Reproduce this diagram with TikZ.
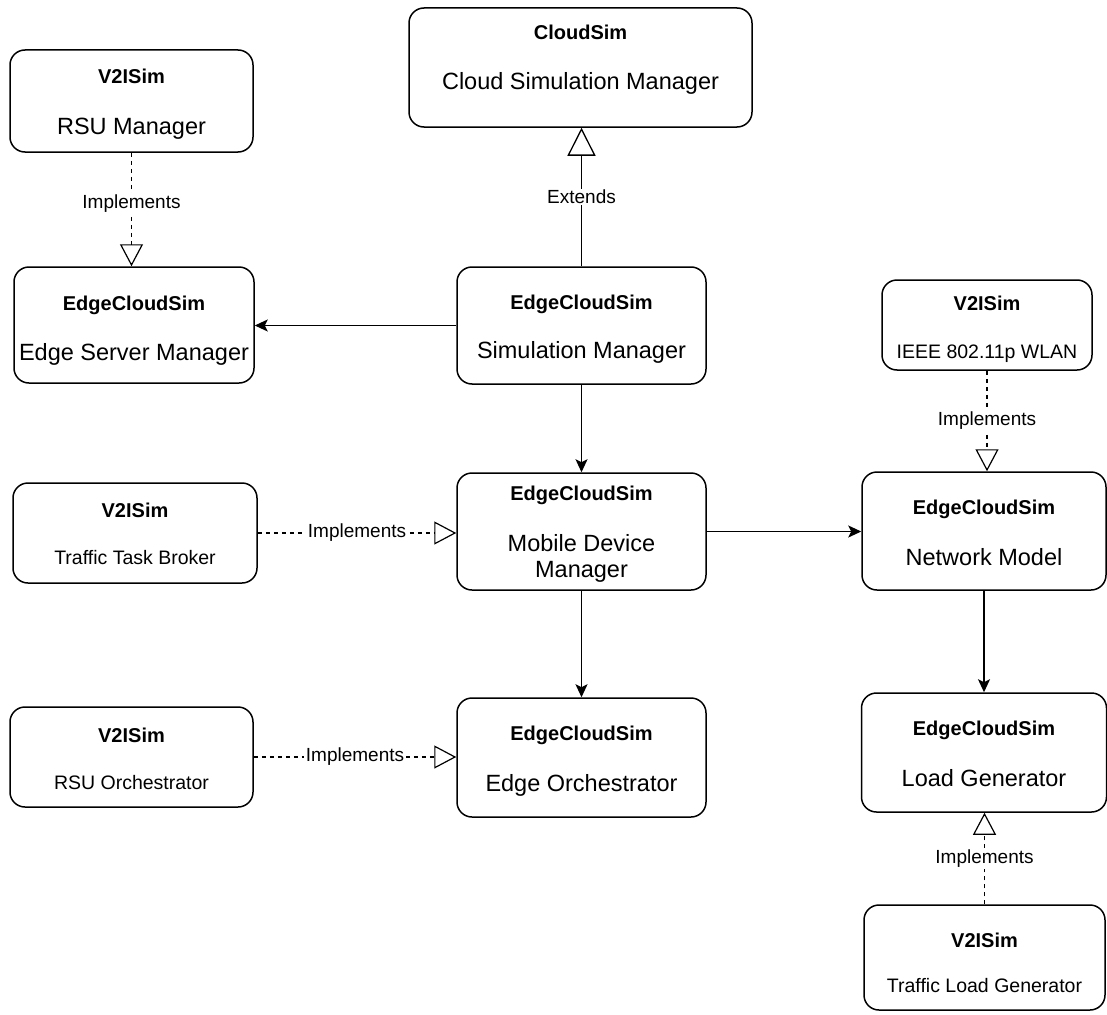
\documentclass[tikz,border=0pt]{standalone}
\usepackage{fontspec}
\setmainfont{Liberation Sans}
\usetikzlibrary{arrows.meta}
\begin{document}
\begin{tikzpicture}[x=1pt,y=-1pt]
\tikzset{
 box/.style={draw, line width=1.5pt, rounded corners=15pt, inner sep=0pt},
 ttl/.style={anchor=base, inner sep=0pt, font=\bfseries\fontsize{20}{24}\selectfont},
 bodyL/.style={anchor=base, inner sep=0pt, font=\fontsize{23.5}{26}\selectfont},
 bodyS/.style={anchor=base, inner sep=0pt, font=\fontsize{19.5}{23}\selectfont},
 flow/.style={line width=1.5pt, -{Stealth[length=13pt,width=12pt,inset=3pt]}},
 impl/.style={line width=1.2pt, dash pattern=on 4pt off 4pt, -{Triangle[open,length=22pt,width=23pt,line width=1.2pt]}},
 ext/.style={line width=1.5pt, -{Triangle[open,length=28pt,width=28pt,line width=1.3pt]}},
 lbl/.style={fill=white, inner sep=1.5pt, font=\fontsize{19}{22}\selectfont},
}
\useasboundingbox (0,0) rectangle (1107,1014);

% boxes
\node[box, minimum width=343pt, minimum height=119pt] (cloud) at (580.5,67.5) {};
\node[box, minimum width=243pt, minimum height=102pt] (rsum) at (131.5,101) {};
\node[box, minimum width=240pt, minimum height=116pt] (esm) at (134,325) {};
\node[box, minimum width=249pt, minimum height=117pt] (sim) at (581.5,325.5) {};
\node[box, minimum width=210pt, minimum height=90pt] (wlan) at (987,325) {};
\node[box, minimum width=244pt, minimum height=100pt] (ttb) at (135,533) {};
\node[box, minimum width=249pt, minimum height=117pt] (mdm) at (581.5,531.5) {};
\node[box, minimum width=244pt, minimum height=118pt] (net) at (984,531) {};
\node[box, minimum width=243pt, minimum height=100pt] (rsuo) at (131.5,757) {};
\node[box, minimum width=249pt, minimum height=119pt] (eo) at (581.5,757.5) {};
\node[box, minimum width=245pt, minimum height=119pt] (lg) at (984,752.5) {};
\node[box, minimum width=241pt, minimum height=105pt] (tlg) at (984.5,957.5) {};

% texts
\node[ttl] (cloudT) at (580.5,39.2) {CloudSim};
\node[bodyL] (cloudB) at (580.5,89.4) {Cloud Simulation Manager};
\node[ttl] (rsumT) at (131.5,84) {V2ISim};
\node[bodyL] (rsumB) at (131.5,135) {RSU Manager};
\node[ttl] (esmT) at (134,310) {EdgeCloudSim};
\node[bodyL] (esmB) at (134,360) {Edge Server Manager};
\node[ttl] (simT) at (581.5,309) {EdgeCloudSim};
\node[bodyL] (simB) at (581.5,358) {Simulation Manager};
\node[ttl] (wlanT) at (987,310) {V2ISim};
\node[bodyS] (wlanB) at (987,358) {IEEE 802.11p WLAN};
\node[ttl] (ttbT) at (135,517) {V2ISim};
\node[bodyS] (ttbB) at (135,564) {Traffic Task Broker};
\node[ttl] (mdmT) at (581.5,500) {EdgeCloudSim};
\node[inner sep=0pt, align=center, font=\fontsize{23.5}{26}\selectfont] (mdmB) at (581.5,558) {Mobile Device\\Manager};
\node[ttl] (netT) at (984,514) {EdgeCloudSim};
\node[bodyL] (netB) at (984,565) {Network Model};
\node[ttl] (rsuoT) at (131.5,742) {V2ISim};
\node[bodyS] (rsuoB) at (131.5,789) {RSU Orchestrator};
\node[ttl] (eoT) at (581.5,740) {EdgeCloudSim};
\node[bodyL] (eoB) at (581.5,791) {Edge Orchestrator};
\node[ttl] (lgT) at (984,735) {EdgeCloudSim};
\node[bodyL] (lgB) at (984,786) {Load Generator};
\node[ttl] (tlgT) at (984.5,947) {V2ISim};
\node[bodyS] (tlgB) at (984.5,992) {Traffic Load Generator};

% connectors
\draw[ext] (sim.north) -- node[lbl]{Extends} (sim.north |- cloud.south);
\draw[impl] (rsum.south) -- node[lbl,pos=0.45]{Implements} (rsum.south |- esm.north);
\draw[flow] (sim.west) -- (sim.west -| esm.east);
\draw[flow] (sim.south) -- (sim.south |- mdm.north);
\draw[impl] (wlan.south) -- node[lbl]{Implements} (wlan.south |- net.north);
\draw[impl] (ttb.east) -- node[lbl]{Implements} (ttb.east -| mdm.west);
\draw[flow] (mdm.east) -- (mdm.east -| net.west);
\draw[flow] (mdm.south) -- (mdm.south |- eo.north);
\draw[impl] (rsuo.east) -- node[lbl]{Implements} (rsuo.east -| eo.west);
\draw[flow] (net.south) -- (net.south |- lg.north);
\draw[impl] (tlg.north) -- node[lbl]{Implements} (tlg.north |- lg.south);
\end{tikzpicture}
\end{document}
